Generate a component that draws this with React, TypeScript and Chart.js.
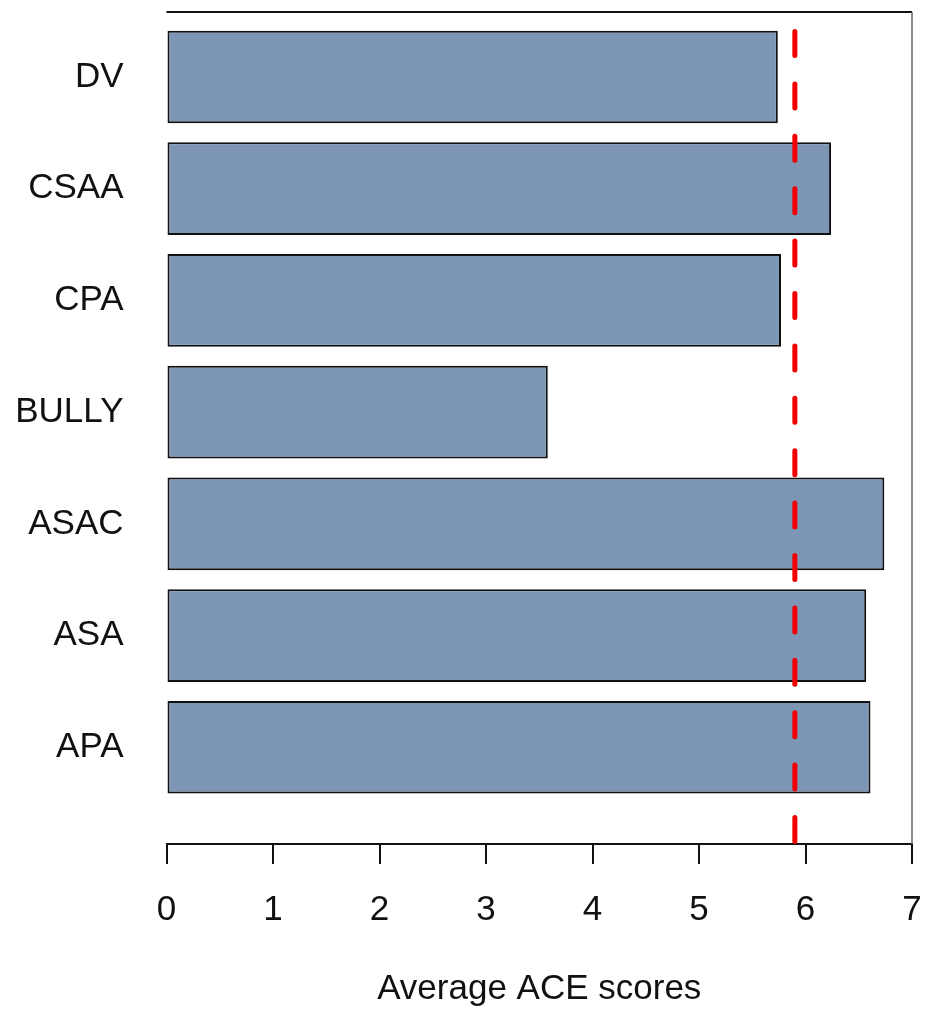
import React, { useEffect, useRef } from "react";
import { Chart, registerables } from "chart.js";

Chart.register(...registerables);

const categories = ["DV", "CSAA", "CPA", "BULLY", "ASAC", "ASA", "APA"];
const scores = [5.74, 6.24, 5.77, 3.58, 6.74, 6.57, 6.61];
const meanScore = 5.9;
const xTicks = [0, 1, 2, 3, 4, 5, 6, 7];
const axisTitle = "Average ACE scores";

const FONT = "'Liberation Sans', Arial, Helvetica, sans-serif";

const framePlugin = {
  id: "frameAndMean",
  beforeDatasetsDraw(chart: any) {
    const { ctx, chartArea } = chart;
    ctx.save();
    ctx.lineCap = "butt";
    ctx.strokeStyle = "#111";
    ctx.lineWidth = 2;
    ctx.beginPath();
    ctx.moveTo(chartArea.left, chartArea.top);
    ctx.lineTo(chartArea.right, chartArea.top);
    ctx.stroke();
    ctx.strokeStyle = "#666";
    ctx.lineWidth = 1.5;
    ctx.beginPath();
    ctx.moveTo(chartArea.right, chartArea.top);
    ctx.lineTo(chartArea.right, chartArea.bottom);
    ctx.stroke();
    ctx.restore();
  },
  afterDatasetsDraw(chart: any) {
    const { ctx, chartArea, scales } = chart;
    const x = scales.x.getPixelForValue(meanScore);
    ctx.save();
    ctx.strokeStyle = "#f20000";
    ctx.lineWidth = 5;
    ctx.lineCap = "round";
    ctx.setLineDash([24, 28.4]);
    ctx.beginPath();
    ctx.moveTo(x, chartArea.bottom - 2.5);
    ctx.lineTo(x, chartArea.top);
    ctx.stroke();
    ctx.restore();
  },
};

export default function App() {
  const ref = useRef<HTMLCanvasElement | null>(null);

  useEffect(() => {
    document.body.style.margin = "0";
    if (!ref.current) return;
    const chart = new Chart(ref.current, {
      type: "bar",
      data: {
        datasets: [
          {
            data: scores.map((v, i) => ({ x: v, y: i })),
            backgroundColor: "#7e96b6",
            borderColor: "#111",
            borderWidth: 2,
            borderSkipped: false,
            categoryPercentage: 1,
            barPercentage: 0.83,
          },
        ],
      },
      options: {
        indexAxis: "y",
        animation: false,
        responsive: true,
        maintainAspectRatio: false,
        layout: { autoPadding: false, padding: { top: 12, right: 16, left: 0, bottom: 0 } },
        plugins: { legend: { display: false }, tooltip: { enabled: false } },
        scales: {
          x: {
            type: "linear",
            min: 0,
            max: 7,
            offset: false,
            afterBuildTicks: (s: any) => {
              s.ticks = xTicks.map((v) => ({ value: v }));
            },
            afterFit: (s: any) => {
              s.height = 168;
              s.paddingLeft = 0;
              s.paddingRight = 0;
            },
            grid: {
              display: true,
              drawOnChartArea: false,
              drawTicks: true,
              tickLength: 20,
              color: "#111",
              lineWidth: 2,
              offset: false,
            },
            border: { display: true, color: "#111", width: 2 },
            ticks: {
              padding: 25,
              color: "#111",
              font: { family: FONT, size: 35 },
              maxRotation: 0,
            },
            title: {
              display: true,
              text: axisTitle,
              color: "#111",
              font: { family: FONT, size: 35 },
              padding: { top: 0, bottom: 2 },
            },
          },
          y: {
            type: "linear",
            reverse: true,
            min: -0.582,
            max: 6.866,
            offset: false,
            afterBuildTicks: (s: any) => {
              s.ticks = categories.map((_, i) => ({ value: i }));
            },
            afterFit: (s: any) => {
              s.width = 166.5;
              s.paddingTop = 0;
              s.paddingBottom = 0;
            },
            grid: { display: false, drawTicks: false, offset: false },
            border: { display: false },
            ticks: {
              padding: 43,
              color: "#111",
              font: { family: FONT, size: 35 },
              callback: (v: any) => categories[v as number] ?? "",
            },
          },
        },
      },
      plugins: [framePlugin],
    });
    return () => chart.destroy();
  }, []);

  return (
    <div style={{ width: 928, height: 1012, position: "relative" }}>
      <canvas ref={ref} />
    </div>
  );
}
